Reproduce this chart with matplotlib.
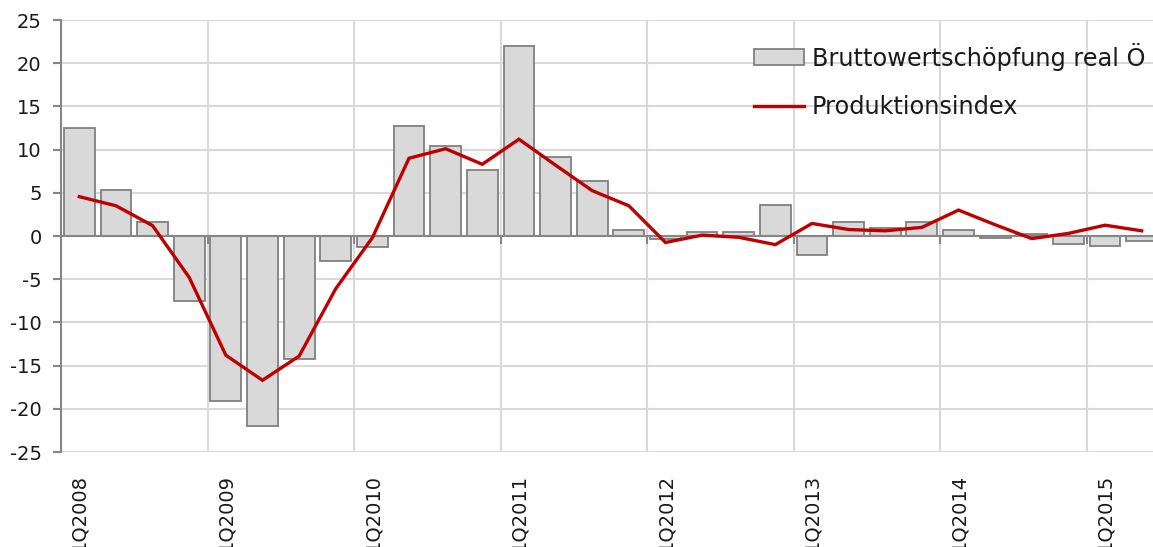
import matplotlib
matplotlib.use("Agg")
import matplotlib.pyplot as plt
import numpy as np

plt.rcParams['font.family'] = ['DejaVu Sans']
plt.rcParams['axes.unicode_minus'] = False

quarters = [f"{q}Q{y}" for y in range(2008, 2016) for q in range(1, 5)][:30]
bwp_real = [12.5, 5.3, 1.6, -7.5, -19.1, -22.0, -14.2, -2.9,
            -1.3, 12.7, 10.4, 7.6, 22.0, 9.1, 6.4, 0.7,
            -0.3, 0.45, 0.45, 3.55, -2.2, 1.6, 0.9, 1.6,
            0.65, -0.2, 0.25, -0.9, -1.15, -0.6]
prod_index = [4.55, 3.5, 1.2, -4.8, -13.8, -16.7, -13.9, -6.1,
              -0.2, 9.0, 10.1, 8.3, 11.2, 8.2, 5.25, 3.5,
              -0.75, 0.1, -0.15, -1.0, 1.45, 0.75, 0.6, 1.0,
              3.0, 1.3, -0.3, 0.3, 1.25, 0.6]
y_ticks = [-25, -20, -15, -10, -5, 0, 5, 10, 15, 20, 25]
label_bwp = "Bruttowertschöpfung real Ö"
label_prod = "Produktionsindex"

W, H = 1153, 547
fig = plt.figure(figsize=(W / 100, H / 100), dpi=100)
ax = fig.add_axes([61 / W, (H - 452) / H, 1099 / W, 432 / H])

x = np.arange(len(quarters))
grid_c = '#d9d9d9'
axis_c = '#868686'

ax.set_xlim(-0.5, len(quarters) - 0.5)
ax.set_ylim(-25, 25)
ax.set_yticks(y_ticks)
ax.set_yticklabels([str(v) for v in y_ticks], fontsize=14, color='#1a1a1a')
ax.yaxis.grid(True, color=grid_c, linewidth=1.5, zorder=0)
bounds = np.arange(3.5, len(quarters) - 0.5, 4)
for b in bounds:
    ax.axvline(b, color=grid_c, linewidth=1.5, zorder=0)
ax.set_axisbelow(True)

bars = ax.bar(x, bwp_real, width=0.84, color='#d9d9d9', edgecolor='#808080',
              linewidth=1.3, zorder=2, label=label_bwp)
ax.axhline(0, color=axis_c, linewidth=1.5, zorder=3)
ax.vlines(bounds, -0.9, 0, color=axis_c, linewidth=1.5, zorder=3)
line, = ax.plot(x, prod_index, color='#c00000', linewidth=2.4, zorder=4,
                solid_joinstyle='miter', label=label_prod)

ax.set_xticks(x[::4])
ax.set_xticklabels(quarters[::4], rotation=90, fontsize=14, color='#1a1a1a',
                   va='top', ha='center')
ax.tick_params(axis='x', length=0, pad=16)
ax.tick_params(axis='y', length=6, width=1.5, color=axis_c, pad=8)

for s in ['top', 'right', 'bottom']:
    ax.spines[s].set_visible(False)
ax.spines['left'].set_color(axis_c)
ax.spines['left'].set_linewidth(1.5)

leg = ax.legend(handles=[bars, line], labels=[label_bwp, label_prod],
                loc='upper left', bbox_to_anchor=(754 / W, 1 - 43 / H),
                bbox_transform=fig.transFigure, frameon=False, fontsize=17.3,
                borderpad=0, borderaxespad=0, handlelength=2.1,
                handletextpad=0.3, labelspacing=1.0, handleheight=0.65)
for t in leg.get_texts():
    t.set_color('#1a1a1a')

fig.savefig('out.png', dpi=100)
